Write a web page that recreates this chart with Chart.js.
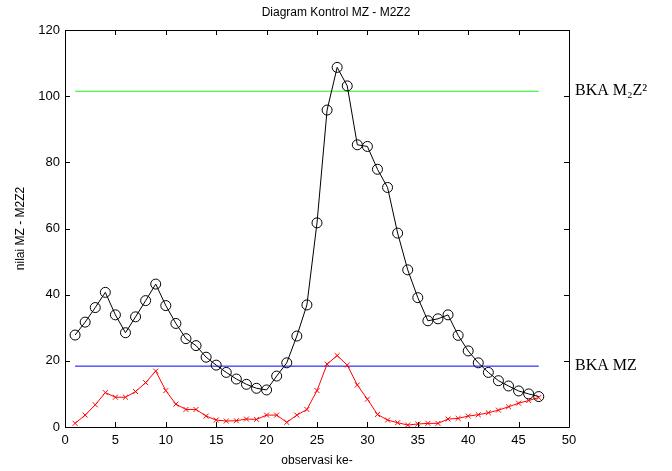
<!DOCTYPE html>
<html>
<head>
<meta charset="utf-8">
<script src="https://cdn.jsdelivr.net/npm/chart.js@4/dist/chart.umd.min.js"></script>
<style>
  html, body { margin: 0; padding: 0; background: #fff; }
  #wrap { width: 672px; height: 471px; }
</style>
</head>
<body>
<div id="wrap"><canvas id="chart" width="672" height="471"></canvas></div>
<script>
'use strict';

// observation number 1..47
const obs = [1,2,3,4,5,6,7,8,9,10,11,12,13,14,15,16,17,18,19,20,21,22,23,24,25,26,27,28,29,30,31,32,33,34,35,36,37,38,39,40,41,42,43,44,45,46,47];

// M2Z2 statistic (black circles)
const m2z2 = [27.8,31.7,36.1,40.7,33.9,28.5,33.3,38.2,43.2,36.7,31.3,26.7,24.6,21.1,18.7,16.5,14.5,12.9,11.7,11.2,
              15.4,19.4,27.5,36.9,61.7,95.8,108.7,103.1,85.3,84.8,77.9,72.4,58.6,47.5,39.1,32.1,32.7,33.9,27.7,23.0,
              19.4,16.5,14.0,12.4,10.9,10.0,9.2];

// MZ statistic (red crosses)
const mz = [1.1,3.6,6.7,10.4,9.0,9.0,10.7,13.4,16.9,11.0,6.9,5.3,5.3,3.3,2.1,1.8,1.9,2.4,2.3,3.6,
            3.6,1.4,3.6,5.3,11.0,19.0,21.6,18.7,12.7,8.4,3.8,2.1,1.3,0.6,0.9,1.1,1.1,2.4,2.6,3.3,
            3.7,4.3,5.1,6.1,7.2,8.0,8.9];

// control limits
const bkaM2Z2 = 101.5;
const bkaMZ = 18.4;
const limitLabels = ['BKA M\u2082Z\u00B2', 'BKA MZ'];

const xTicks = [0,5,10,15,20,25,30,35,40,45,50];
const yTicks = [0,20,40,60,80,100,120];

function pairs(xs, ys){
    return xs.map((x, i) => ({x: x, y: ys[i]}));
}

// box round the plot with inward ticks, like the original
const boxTicks = {
    id: 'boxTicks',
    afterDatasetsDraw(chart){
        const ctx = chart.ctx;
        const a = chart.chartArea;
        const sx = chart.scales.x, sy = chart.scales.y;
        const len = 5;
        ctx.save();
        ctx.strokeStyle = '#000';
        ctx.lineWidth = 1;
        ctx.beginPath();
        ctx.rect(Math.round(a.left) + 0.5, Math.round(a.top) + 0.5,
                 Math.round(a.right - a.left), Math.round(a.bottom - a.top));
        xTicks.forEach(v => {
            const px = Math.round(sx.getPixelForValue(v)) + 0.5;
            ctx.moveTo(px, a.bottom); ctx.lineTo(px, a.bottom - len);
            ctx.moveTo(px, a.top); ctx.lineTo(px, a.top + len);
        });
        yTicks.forEach(v => {
            const py = Math.round(sy.getPixelForValue(v)) + 0.5;
            ctx.moveTo(a.left, py); ctx.lineTo(a.left + len, py);
            ctx.moveTo(a.right, py); ctx.lineTo(a.right - len, py);
        });
        ctx.stroke();
        ctx.restore();
    }
};

const sans = "'Liberation Sans', Arial, sans-serif";

new Chart(document.getElementById('chart'), {
    type: 'line',
    data: {
        datasets: [
            {
                data: pairs(obs, m2z2),
                borderColor: '#000',
                borderWidth: 1,
                pointStyle: 'circle',
                pointRadius: 5,
                pointBorderColor: '#000',
                pointBackgroundColor: 'rgba(0,0,0,0)',
                pointBorderWidth: 1
            },
            {
                data: pairs(obs, mz),
                borderColor: '#ff0000',
                borderWidth: 1,
                pointStyle: 'crossRot',
                pointRadius: 3.5,
                pointBorderColor: '#ff0000',
                pointBorderWidth: 1
            },
            {
                data: pairs([obs[0], obs[obs.length - 1]], [bkaM2Z2, bkaM2Z2]),
                borderColor: '#22ee22',
                borderWidth: 1,
                pointRadius: 0
            },
            {
                data: pairs([obs[0], obs[obs.length - 1]], [bkaMZ, bkaMZ]),
                borderColor: '#0000ff',
                borderWidth: 1,
                pointRadius: 0
            }
        ]
    },
    options: {
        responsive: false,
        animation: false,
        layout: { padding: 0 },
        plugins: {
            legend: { display: false },
            tooltip: { enabled: false },
            title: {
                display: true,
                text: 'Diagram Kontrol MZ - M2Z2',
                color: '#000',
                font: { family: sans, size: 12, weight: 'normal' },
                padding: { top: 5, bottom: 10.6 }
            }
        },
        scales: {
            x: {
                type: 'linear',
                min: 0, max: 50,
                afterBuildTicks: s => { s.ticks = xTicks.map(v => ({value: v})); },
                afterFit: s => { s.height = 44; },
                grid: { display: false, drawTicks: false },
                border: { display: false },
                ticks: { color: '#000', padding: 6, maxRotation: 0, font: { family: sans, size: 13 } },
                title: {
                    display: true, text: 'observasi ke-', color: '#000',
                    font: { family: sans, size: 12 }, padding: { top: 0, bottom: 3 }
                }
            },
            y: {
                type: 'linear',
                min: 0, max: 120,
                afterBuildTicks: s => { s.ticks = yTicks.map(v => ({value: v})); },
                afterFit: s => { s.width = 65; },
                grid: { display: false, drawTicks: false },
                border: { display: false },
                ticks: { color: '#000', padding: 5, font: { family: sans, size: 13 } },
                title: {
                    display: true, text: 'nilai MZ - M2Z2', color: '#000',
                    font: { family: sans, size: 12 }, padding: { top: 13, bottom: 0 }
                }
            },
            y2: {
                type: 'linear',
                position: 'right',
                min: 0, max: 120,
                afterBuildTicks: s => { s.ticks = [{value: bkaM2Z2}, {value: bkaMZ}]; },
                afterFit: s => { s.width = 103; },
                grid: { display: false, drawTicks: false },
                border: { display: false },
                ticks: {
                    color: '#000', padding: 6,
                    font: { family: "'Liberation Serif', 'Times New Roman', serif", size: 16 },
                    callback: (v, i) => limitLabels[i]
                }
            }
        }
    },
    plugins: [boxTicks]
});
</script>
</body>
</html>
